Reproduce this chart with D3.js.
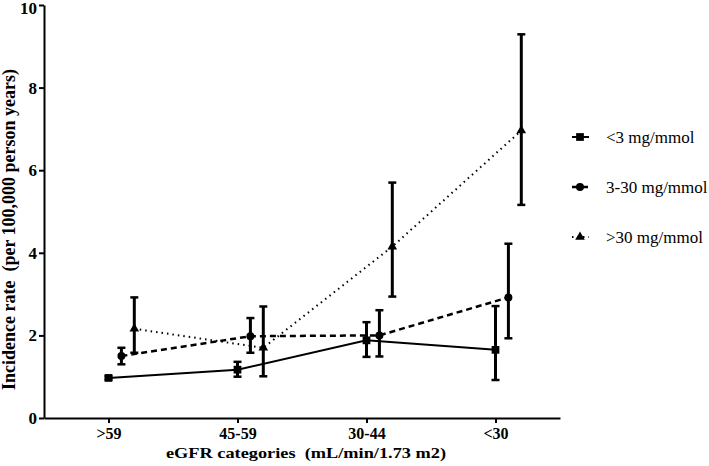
<!DOCTYPE html>
<html>
<head>
<meta charset="utf-8">
<script src="https://cdn.jsdelivr.net/npm/d3@7"></script>
<style>
  body { margin: 0; background: #fff; }
  text { font-family: "Liberation Serif", "Times New Roman", serif; white-space: pre; }
</style>
</head>
<body>
<div id="chart"></div>
<script>
// eGFR categories on the x axis
const categories = ['>59', '45-59', '30-44', '<30'];
const seriesNames = ['<3 mg/mmol', '3-30 mg/mmol', '>30 mg/mmol'];
const yTicks = [0, 2, 4, 6, 8, 10];

// incidence rate and 95% CI per series
const lowMean = [0.97, 1.17, 1.88, 1.65];
const lowLower = [0.93, 1.0, 1.48, 0.92];
const lowUpper = [1.01, 1.36, 2.32, 2.71];

const midMean = [1.5, 1.98, 2.0, 2.92];
const midLower = [1.3, 1.58, 1.49, 1.93];
const midUpper = [1.7, 2.42, 2.61, 4.22];

const highMean = [2.16, 1.7, 4.15, 6.96];
const highLower = [1.58, 1.01, 2.94, 5.16];
const highUpper = [2.92, 2.7, 5.7, 9.29];

const series = [
    { name: seriesNames[0], mean: lowMean, lower: lowLower, upper: lowUpper, dash: null, width: 2, symbol: d3.symbolSquare, size: 60 },
    { name: seriesNames[1], mean: midMean, lower: midLower, upper: midUpper, dash: '6,4', width: 2.5, symbol: d3.symbolCircle, size: 50 },
    { name: seriesNames[2], mean: highMean, lower: highLower, upper: highUpper, dash: '1.5,4', width: 2, symbol: d3.symbolTriangle, size: 40 },
];

const W = 709, H = 466;
const margins = { top: 5, right: 149, bottom: 48, left: 44 };

const svg = d3.select('#chart').append('svg')
    .attr('width', W)
    .attr('height', H);

const x = d3.scalePoint()
    .domain(categories)
    .range([margins.left, W - margins.right])
    .padding(0.5);

const y = d3.scaleLinear()
    .domain([0, 10])
    .range([H - margins.bottom, margins.top]);

const offset = x.step() * 0.1;

// axes
const yAxis = svg.append('g')
    .attr('transform', `translate(${margins.left},0)`)
    .call(d3.axisLeft(y).tickValues(yTicks).tickSize(5).tickSizeOuter(0).tickPadding(2));

const xAxis = svg.append('g')
    .attr('transform', `translate(0,${H - margins.bottom})`)
    .call(d3.axisBottom(x).tickSize(5).tickSizeOuter(0).tickPadding(6));

[yAxis, xAxis].forEach((g) => {
    g.select('.domain').attr('stroke', '#000').attr('stroke-width', 2);
    g.selectAll('.tick line').attr('stroke', '#000').attr('stroke-width', 2);
    g.selectAll('.tick text')
        .style('font-family', '"Liberation Serif", serif')
        .style('font-size', '17px')
        .style('font-weight', 'bold')
        .attr('fill', '#000');
});
xAxis.selectAll('.tick text').style('font-size', '16px').attr('dy', '0.6em');
// keep the top label inside the picture
yAxis.selectAll('.tick').filter((d) => d === 10).select('text').attr('dy', '0.5em');

// axis titles
svg.append('text')
    .attr('transform', `translate(15,${(y(0) + y(10)) / 2 + 18}) rotate(-90)`)
    .attr('text-anchor', 'middle')
    .style('font-size', '18px')
    .style('font-weight', 'bold')
    .text('Incidence rate  (per 100,000 person years)');

svg.append('text')
    .attr('x', 306)
    .attr('y', 458)
    .attr('text-anchor', 'middle')
    .attr('textLength', 280)
    .attr('lengthAdjust', 'spacingAndGlyphs')
    .style('font-size', '15px')
    .style('font-weight', 'bold')
    .text('eGFR categories  (mL/min/1.73 m2)');

const line = d3.line()
    .x((d) => d.x)
    .y((d) => d.y);

series.forEach((s, i) => {
    const pts = categories.map((c, j) => ({
        x: x(c) + i * offset,
        y: y(s.mean[j]),
        lo: y(s.lower[j]),
        hi: y(s.upper[j]),
    }));

    const g = svg.append('g');

    g.append('path')
        .datum(pts)
        .attr('d', line)
        .attr('fill', 'none')
        .attr('stroke', '#000')
        .attr('stroke-width', s.width)
        .attr('stroke-dasharray', s.dash);

    // error bars
    g.selectAll('.err')
        .data(pts)
        .enter()
        .append('line')
        .attr('x1', (d) => d.x)
        .attr('x2', (d) => d.x)
        .attr('y1', (d) => d.lo)
        .attr('y2', (d) => d.hi)
        .attr('stroke', '#000')
        .attr('stroke-width', 3);

    ['lo', 'hi'].forEach((k) => {
        g.selectAll('.cap-' + k)
            .data(pts)
            .enter()
            .append('line')
            .attr('x1', (d) => d.x - 4)
            .attr('x2', (d) => d.x + 4)
            .attr('y1', (d) => d[k])
            .attr('y2', (d) => d[k])
            .attr('stroke', '#000')
            .attr('stroke-width', 2.5);
    });

    g.selectAll('.mark')
        .data(pts)
        .enter()
        .append('path')
        .attr('transform', (d) => `translate(${d.x},${d.y})`)
        .attr('d', d3.symbol().type(s.symbol).size(s.size))
        .attr('fill', '#000');

    // legend
    const ly = 137 + i * 50;
    const lg = svg.append('g').attr('transform', `translate(580,${ly})`);
    lg.append('line')
        .attr('x1', -8)
        .attr('x2', 9)
        .attr('stroke', '#000')
        .attr('stroke-width', s.width)
        .attr('stroke-dasharray', s.dash);
    lg.append('path')
        .attr('d', d3.symbol().type(s.symbol).size(s.size))
        .attr('fill', '#000');
    lg.append('text')
        .attr('x', 26)
        .attr('y', 6)
        .style('font-size', '17px')
        .text(s.name);
});
</script>
</body>
</html>
